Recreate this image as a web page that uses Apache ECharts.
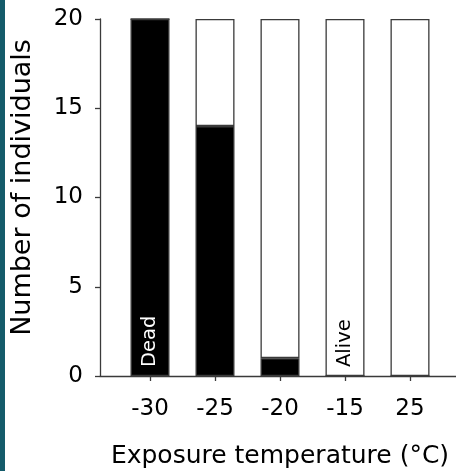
<!DOCTYPE html>
<html>
<head>
<meta charset="utf-8">
<script src="https://cdn.jsdelivr.net/npm/echarts@6/dist/echarts.min.js"></script>
<style>
  html, body { margin: 0; padding: 0; background: #ffffff; }
  #chart { position: absolute; left: 0; top: 0; width: 456px; height: 471px; }
  #strip { position: absolute; left: 0; top: 0; width: 5px; height: 471px; background: #145b6a; }
</style>
</head>
<body>
<div id="chart"></div>
<div id="strip"></div>
<script>
// Exposure temperatures (°C) and outcome counts per group of 20
const temperatures = ['-30', '-25', '-20', '-15', '25'];
const dead = [20, 14, 1, 0, 0];
const alive = [0, 6, 19, 20, 20];
const yTicks = { min: 0, max: 20, step: 5 };

const FONT = '"DejaVu Sans", "Liberation Sans", Arial, sans-serif';
const INK = '#3a3a3a';

const chart = echarts.init(document.getElementById('chart'), null, { renderer: 'canvas' });

const inBarLabel = (text, color) => ({
  show: true,
  formatter: text,
  position: 'insideBottom',
  rotate: 90,
  align: 'left',
  verticalAlign: 'middle',
  distance: 9,
  color: color,
  fontFamily: FONT,
  fontSize: 19.5
});

const option = {
  animation: false,
  backgroundColor: '#ffffff',
  grid: [
    // frame grid: carries the full-width baseline and the y axis
    { left: 100, right: 0, top: 19, bottom: 95, containLabel: false, outerBoundsMode: 'none' },
    // bar grid: category bands centred under the tick marks
    { left: 117.5, right: 13.5, top: 19, bottom: 95, containLabel: false, outerBoundsMode: 'none' }
  ],
  xAxis: [
    {
      type: 'value', gridIndex: 0, min: 0, max: 1,
      axisLine: { show: true, lineStyle: { color: INK, width: 1.3 } },
      axisTick: { show: false }, axisLabel: { show: false }, splitLine: { show: false }
    },
    {
      type: 'category', gridIndex: 1, data: temperatures,
      axisLine: { show: false },
      axisTick: { show: true, alignWithLabel: true, length: 5, lineStyle: { color: INK, width: 1.3 } },
      axisLabel: { color: '#000', fontFamily: FONT, fontSize: 23, margin: 22 },
      name: 'Exposure temperature (°C)',
      nameLocation: 'middle',
      nameGap: 68,
      nameTextStyle: { color: '#000', fontFamily: FONT, fontSize: 25 }
    }
  ],
  yAxis: [
    {
      type: 'value', gridIndex: 0, min: yTicks.min, max: yTicks.max, interval: yTicks.step,
      axisLine: { show: true, lineStyle: { color: INK, width: 1.3 } },
      axisTick: { show: true, inside: false, length: 5, lineStyle: { color: INK, width: 1.3 } },
      axisLabel: { color: '#000', fontFamily: FONT, fontSize: 23, margin: 17 },
      splitLine: { show: false },
      name: 'Number of individuals',
      nameLocation: 'middle',
      nameGap: 64,
      nameTextStyle: { color: '#000', fontFamily: FONT, fontSize: 27, padding: [0, 0, 0, 20] }
    },
    {
      type: 'value', gridIndex: 1, min: yTicks.min, max: yTicks.max, show: false
    }
  ],
  series: [
    {
      name: 'Dead', type: 'bar', stack: 'n', xAxisIndex: 1, yAxisIndex: 1,
      barWidth: 39,
      itemStyle: { color: '#000000', borderColor: INK, borderWidth: 1.3 },
      data: dead.map((v, i) => i === 0 ? { value: v, label: inBarLabel('Dead', '#ffffff') } : v)
    },
    {
      name: 'Alive', type: 'bar', stack: 'n', xAxisIndex: 1, yAxisIndex: 1,
      barWidth: 39,
      itemStyle: { color: '#ffffff', borderColor: INK, borderWidth: 1.3 },
      data: alive.map((v, i) => i === 3 ? { value: v, label: inBarLabel('Alive', '#000000') } : v)
    }
  ]
};

chart.setOption(option);
</script>
</body>
</html>
